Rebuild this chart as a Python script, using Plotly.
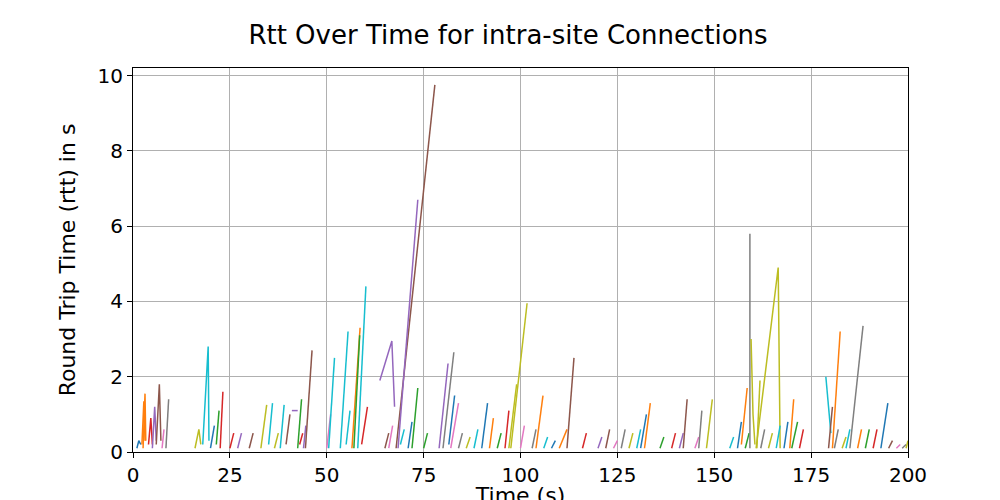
import plotly.graph_objects as go

# each connection: flat list of x values and matching y values (rtt in s)
conn_x = [
 [1,1.5,2],[2.3,2.8,3.1],[2.6,3.1,3.3],[4,4.6,5],[5,5.6,6],[6,6.8,7.2],[7.5,8],[8.5,9.2],
 [16,17,17.5],[18,19.4,19.6],[20,21,21.5],[21.5,22.2],[22.5,23.2],[25,26],[27,28],
 [30,31],[33,34.5],[35,36],[36.5,37.5],[38,39],[39.5,40.5],[41,41.5,42.5],[42.5,43.5],[43,43.8],[44,44.6],[44.5,46.2],
 [50,51],[50.5,52],[53.5,55.5],[55,56],[56.5,58.6],[57,58.5],[58,60.1],[59,60.5],
 [63.7,66.8,67.5],[65,66],[66,67],[67.9,77.9],[68.4,73.5],[69,70],[71,72],[72,73.5],[75,76],
 [79,81.3],[80,82.8],[81.5,83],[82,84],[84,85],[86,87],[88,89],[90,91.5],[92,93],[94,95],[96,97],
 [97,99],[97.5,101.7],[100,101],[103,104],[104,105.8],[106,107],[108,109],[110,112],[112,113.8],
 [116,117],[120,121],[122,123],[124,125],[126,127],[128,129],[130,131],[131,132.5],[132,133.5],
 [136,137],[139,140],[141,142],[142,143],[145,146],[146,146.8],[148,149.5],
 [154,155],[156,157],[157,158.5],[158,159],[159.2,159.2],[159.5,160,160.5],[160.8,166.5,167],[161,161.8],[162,163],
 [164,165],[166,167],[168,169],[169.5,170.5],[170,171.5],[172,173],
 [178.8,180.1],[179.5,180.5],[180.5,182.5],[181,182],[183,184],[184,185],[185,188.4],[187,188],
 [189,190],[191,192],[193,194.8],[195,196],[197,198],[198.5,199.5],[199.5,200]
]
conn_y = [
 [0.1,0.3,0.2],[0.2,1.35,0.3],[0.1,1.55,0.3],[0.2,0.9,0.2],[0.1,1.2,0.3],[0.2,1.8,0.3],[0.1,0.6],[0.1,1.4],
 [0.1,0.6,0.2],[0.2,2.8,0.3],[0.1,0.7],[0.2,1.1],[0.1,1.6],[0.1,0.5],[0.1,0.5],
 [0.1,0.5],[0.1,1.25],[0.2,1.3],[0.1,0.5],[0.1,1.25],[0.2,1.0],[1.1,1.1,1.1],[0.1,1.4],[0.2,0.5],[0.1,0.7],[0.1,2.7],
 [0.1,1.0],[0.1,2.5],[0.1,3.2],[0.2,1.1],[0.1,3.3],[0.1,3.1],[0.1,4.4],[0.2,1.2],
 [1.9,2.95,1.2],[0.1,0.5],[0.1,0.7],[0.1,9.75],[0.1,6.7],[0.2,0.6],[0.1,0.8],[0.1,1.7],[0.1,0.5],
 [0.1,2.35],[0.1,2.65],[0.2,1.5],[0.1,1.3],[0.1,0.5],[0.1,0.4],[0.1,0.6],[0.1,1.3],[0.1,0.9],[0.1,0.5],[0.1,1.1],
 [0.1,1.8],[0.1,3.95],[0.1,0.7],[0.1,0.6],[0.1,1.5],[0.1,0.4],[0.1,0.3],[0.1,0.6],[0.1,2.5],
 [0.1,0.5],[0.1,0.4],[0.1,0.6],[0.1,0.3],[0.1,0.6],[0.1,0.5],[0.1,0.6],[0.1,1.0],[0.1,1.3],
 [0.1,0.4],[0.1,0.5],[0.1,0.5],[0.1,1.4],[0.1,0.4],[0.1,1.1],[0.1,1.4],
 [0.1,0.4],[0.1,0.8],[0.2,1.7],[0.1,0.5],[0.1,5.8],[3.0,1.0,0.2],[0.1,4.9,0.1],[0.1,1.9],[0.1,0.6],
 [0.1,0.5],[0.1,0.7],[0.1,0.8],[0.1,1.4],[0.1,0.8],[0.1,0.6],
 [2.0,0.5],[0.1,1.2],[0.1,3.2],[0.1,0.6],[0.1,0.4],[0.1,0.6],[0.1,3.35],[0.1,0.6],
 [0.1,0.6],[0.1,0.6],[0.1,1.3],[0.1,0.3],[0.1,0.2],[0.1,0.2],[0.1,0.3]
]
# colour (palette index) of notable connections; others cycle
color_override = {2:1, 5:5, 7:7, 9:9, 11:2, 12:3, 16:8, 17:9, 20:5, 21:4, 25:5, 27:9, 28:9,
                  30:1, 31:2, 32:9, 34:4, 37:5, 38:4, 41:2, 43:4, 44:7, 45:0, 54:8, 55:8,
                  58:1, 62:5, 83:7, 84:8, 85:8, 86:8, 94:9, 96:1, 100:7, 104:0}
palette = ["#1f77b4","#ff7f0e","#2ca02c","#d62728","#9467bd","#8c564b","#e377c2","#7f7f7f","#bcbd22","#17becf"]

fig = go.Figure()
for i, (xs, ys) in enumerate(zip(conn_x, conn_y)):
    c = palette[color_override.get(i, i % 10)]
    fig.add_trace(go.Scatter(x=xs, y=ys, mode="lines", showlegend=False,
                             line=dict(color=c, width=1.5)))

ax = dict(showgrid=True, gridcolor="#b0b0b0", gridwidth=1, showline=True, linecolor="black",
          mirror=True, ticks="outside", tickcolor="black", zeroline=False, automargin=False,
          tickfont=dict(size=20, color="black"))
fig.update_layout(
    width=1000, height=500, plot_bgcolor="white", paper_bgcolor="white",
    font=dict(family="DejaVu Sans", color="black"),
    title=dict(text="Rtt Over Time for intra-site Connections", x=0.5, y=0.965, xanchor="center",
               font=dict(size=26)),
    margin=dict(l=125, r=100, t=60, b=56),
    xaxis=dict(ax, range=[0, 200], dtick=25, title=dict(text="Time (s)", font=dict(size=22), standoff=6)),
    yaxis=dict(ax, range=[0, 10.2], dtick=2, title=dict(text="Round Trip Time (rtt) in s", font=dict(size=22))),
)
fig.write_html("out.html")
